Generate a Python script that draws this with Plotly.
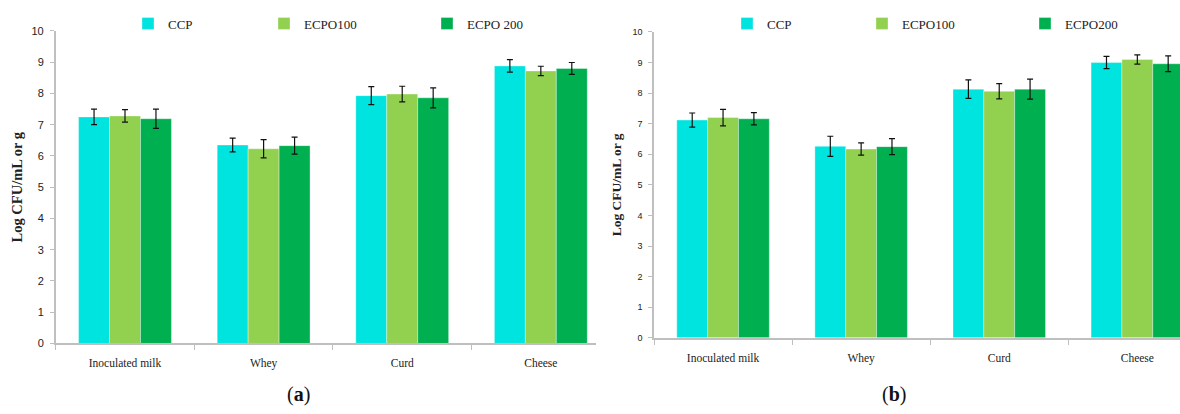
import plotly.graph_objects as go

# Sample types on the x axis
categories = ["Inoculated milk", "Whey", "Curd", "Cheese"]

# Panel (a): mean log counts and standard deviations
a_ccp = [7.25, 6.35, 7.93, 8.88]
a_ccp_sd = [0.25, 0.22, 0.29, 0.20]
a_ecpo100 = [7.28, 6.23, 7.98, 8.72]
a_ecpo100_sd = [0.20, 0.29, 0.25, 0.15]
a_ecpo200 = [7.19, 6.33, 7.86, 8.80]
a_ecpo200_sd = [0.31, 0.27, 0.32, 0.19]

# Panel (b): mean log counts and standard deviations
b_ccp = [7.12, 6.26, 8.13, 9.00]
b_ccp_sd = [0.23, 0.33, 0.30, 0.20]
b_ecpo100 = [7.20, 6.17, 8.06, 9.10]
b_ecpo100_sd = [0.27, 0.20, 0.25, 0.15]
b_ecpo200 = [7.16, 6.25, 8.13, 8.96]
b_ecpo200_sd = [0.20, 0.26, 0.33, 0.26]

y_ticks = list(range(0, 11))

C_CCP = "#00E4E0"
C_E100 = "#92D050"
C_E200 = "#00B050"

W, H = 1180, 414
SERIF = "Liberation Serif"
SANS = "Liberation Sans"


def px_x(v):
    return v / W


def px_y(v):
    return 1 - v / H


fig = go.Figure()


def add_bar(name, vals, sd, color, xa, ya, legend):
    fig.add_trace(go.Bar(
        x=categories, y=vals, name=name,
        marker=dict(color=color, line=dict(color="rgba(255,255,255,0.35)", width=1)),
        error_y=dict(type="data", array=sd, visible=True, color="#111111",
                     thickness=1.2, width=3),
        xaxis=xa, yaxis=ya, legend=legend,
    ))


add_bar("CCP", a_ccp, a_ccp_sd, C_CCP, "x", "y", "legend")
add_bar("ECPO100", a_ecpo100, a_ecpo100_sd, C_E100, "x", "y", "legend2")
add_bar("ECPO 200", a_ecpo200, a_ecpo200_sd, C_E200, "x", "y", "legend3")
add_bar("CCP", b_ccp, b_ccp_sd, C_CCP, "x2", "y2", "legend4")
add_bar("ECPO100", b_ecpo100, b_ecpo100_sd, C_E100, "x2", "y2", "legend5")
add_bar("ECPO200", b_ecpo200, b_ecpo200_sd, C_E200, "x2", "y2", "legend6")

axis_col = "#BFBFBF"

xcommon = dict(
    type="category", showline=True, linecolor=axis_col, linewidth=1.5,
    ticks="outside", tickson="boundaries", tickcolor=axis_col, ticklen=5,
    showgrid=False, zeroline=False, fixedrange=True,
)
ycommon = dict(
    range=[0, 10], tickvals=y_ticks, showline=True, linecolor=axis_col,
    linewidth=1.5, ticks="outside", tickcolor=axis_col, ticklen=4,
    showgrid=False, zeroline=False, fixedrange=True,
)

# Left panel: axis spans 55.7..596 px (3.9 category widths)
fig.update_layout(
    xaxis=dict(xcommon, domain=[px_x(55.7), px_x(596)], range=[-0.5, 3.398],
               anchor="y", ticklabelstandoff=8,
               tickfont=dict(family=SERIF, size=11.5, color="#222")),
    yaxis=dict(ycommon, domain=[px_y(347.5), px_y(25.7)], anchor="x",
               tickfont=dict(family=SANS, size=11, color="#222"),
               ticklabelstandoff=4,
               title=dict(text="<b>Log CFU/mL or g</b>", standoff=5,
                          font=dict(family=SERIF, size=14.5, color="#222"))),
    xaxis2=dict(xcommon, domain=[px_x(654), 1.0], range=[-0.5, 3.309],
                anchor="y2", ticklabelstandoff=9,
                tickfont=dict(family=SERIF, size=11.5, color="#222")),
    yaxis2=dict(ycommon, domain=[px_y(341.7), px_y(26.7)], anchor="x2",
                tickfont=dict(family=SANS, size=9, color="#222"),
                ticklabelstandoff=4,
                title=dict(text="<b>Log CFU/mL or g</b>", standoff=8,
                           font=dict(family=SERIF, size=13.5, color="#222"))),
)

fig.update_layout(
    width=W, height=H, margin=dict(l=0, r=0, t=0, b=0),
    paper_bgcolor="white", plot_bgcolor="white",
    barmode="group", bargap=0.33, bargroupgap=0.0,
    showlegend=True,
)

# One legend per series so each entry sits at its own spot above the bars
leg_y = px_y(18)
leg_text_x = {"legend": 168, "legend2": 304, "legend3": 467,
              "legend4": 767, "legend5": 902, "legend6": 1065}
for key, tx in leg_text_x.items():
    fig.update_layout({key: dict(
        x=px_x(tx - 40), y=leg_y, xanchor="left", yanchor="middle",
        orientation="h", bgcolor="rgba(0,0,0,0)",
        font=dict(family=SERIF, size=13, color="#222"),
    )})

# Panel letters
for letter, xc in (("a", 298), ("b", 894)):
    fig.add_annotation(
        text=f"(<b>{letter}</b>)", x=px_x(xc), y=px_y(400), xref="paper",
        yref="paper", showarrow=False, xanchor="center", yanchor="middle",
        font=dict(family=SERIF, size=20, color="#111"),
    )

fig.write_html("out.html")
